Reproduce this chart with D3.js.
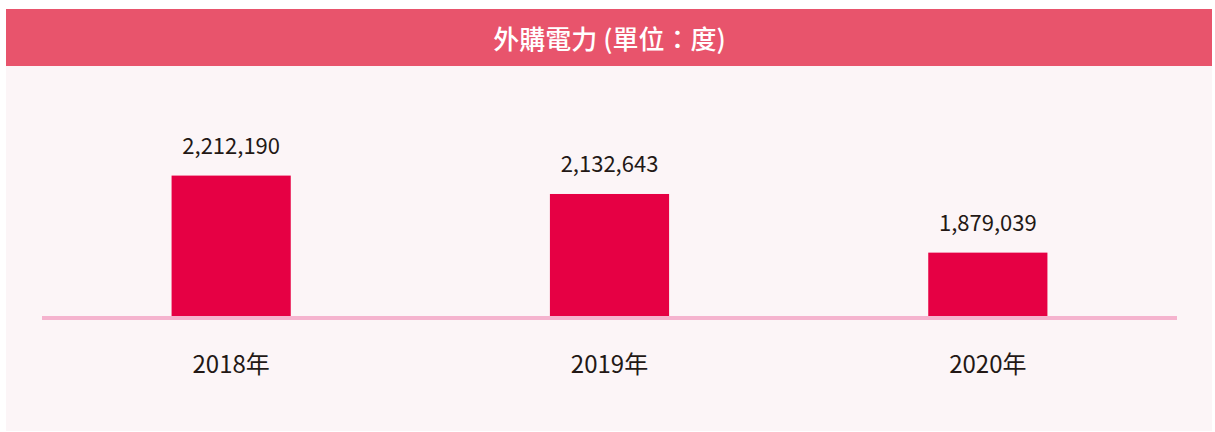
<!DOCTYPE html>
<html>
<head>
<meta charset="utf-8">
<script src="https://cdn.jsdelivr.net/npm/d3@7"></script>
<style>
  body { margin: 0; background: #fff; }
  text { font-family: "Noto Sans CJK TC", "Noto Sans", sans-serif; }
</style>
</head>
<body>
<svg id="canvas" width="1215" height="432"></svg>
<script>
let title = '外購電力 (單位：度)'
let years = ['2018年', '2019年', '2020年']
let values = [2212190, 2132643, 1879039]

let canvas = d3.select('#canvas')

// panel + header
canvas.append('rect')
    .attr('x', 6).attr('y', 9)
    .attr('width', 1206).attr('height', 422)
    .attr('fill', '#fcf5f7')
canvas.append('rect')
    .attr('x', 6).attr('y', 9)
    .attr('width', 1206).attr('height', 57)
    .attr('fill', '#e8546c')
canvas.append('text')
    .text(title)
    .attr('x', 609.5)
    .attr('y', 37)
    .attr('text-anchor', 'middle')
    .attr('dominant-baseline', 'central')
    .attr('fill', '#fff')
    .attr('font-size', 26)
    .attr('font-weight', 500)

let xScale = d3.scaleBand()
    .domain(years)
    .range([42, 1177])
    .paddingInner(0.685)
    .paddingOuter(0.3425)

let yMin = 1605000
let yScale = d3.scaleLinear()
    .domain([yMin, 2405000])
    .range([316, 131])

let data = years.map((y, i) => ({year: y, value: values[i]}))

canvas.selectAll('.bar')
    .data(data)
    .enter()
    .append('rect')
    .attr('class', 'bar')
    .attr('x', (d) => xScale(d.year))
    .attr('y', (d) => yScale(d.value))
    .attr('width', xScale.bandwidth())
    .attr('height', (d) => yScale(yMin) - yScale(d.value))
    .attr('fill', '#e60044')

canvas.selectAll('.val')
    .data(data)
    .enter()
    .append('text')
    .attr('class', 'val')
    .text((d) => d3.format(',')(d.value))
    .attr('x', (d) => xScale(d.year) + xScale.bandwidth() / 2)
    .attr('y', (d) => yScale(d.value) - 21.5)
    .attr('text-anchor', 'middle')
    .attr('fill', '#231815')
    .attr('font-size', 22)

// baseline
canvas.append('line')
    .attr('x1', 42).attr('x2', 1177)
    .attr('y1', 318).attr('y2', 318)
    .attr('stroke', '#f5b3ce')
    .attr('stroke-width', 4)

let xAxis = d3.axisBottom(xScale).tickSize(0).tickPadding(0)
let axisG = canvas.append('g')
    .attr('transform', 'translate(0, 320)')
    .call(xAxis)
axisG.select('.domain').remove()
axisG.selectAll('text')
    .attr('dy', null)
    .attr('y', 53)
    .attr('fill', '#231815')
    .attr('font-size', 24)
    .style('font-family', '"Noto Sans CJK TC", "Noto Sans", sans-serif')
</script>
</body>
</html>
